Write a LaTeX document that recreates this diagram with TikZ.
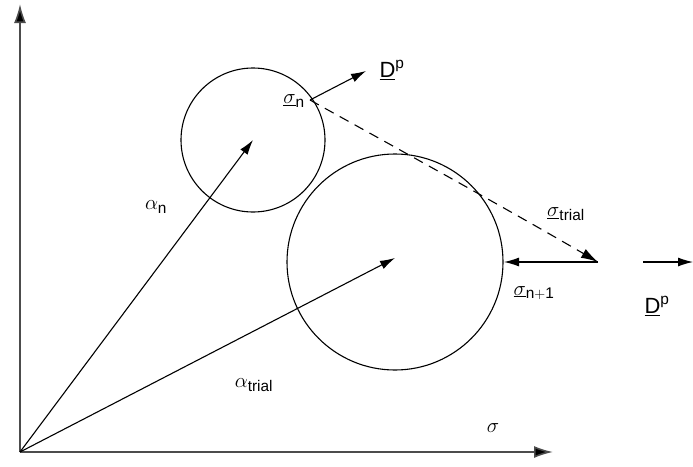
\documentclass[tikz,border=0pt]{standalone}
\usepackage{fontspec}
\setmainfont{Liberation Sans}
\usetikzlibrary{arrows.meta}
\begin{document}
\begin{tikzpicture}[x=1pt,y=-1pt,
  vec/.style={line width=1.1pt,-{Latex[length=15pt,width=9pt]}},
  ax/.style={line width=1.6pt,draw=black!70,-{Latex[length=19pt,width=12pt,fill=black]}},
  lbl/.style={font=\fontsize{22}{26}\selectfont,inner sep=0pt}]
\useasboundingbox (0,0) rectangle (693,466);
\coordinate (O) at (20,452);
\coordinate (ytop) at (20,4);
\coordinate (xend) at (553,452);
\draw[ax] (O) -- (ytop);
\draw[ax] (O) -- (xend);
% circles
\node[circle,draw,line width=1.1pt,minimum size=144pt,inner sep=0pt] (c1) at (253,140) {};
\node[circle,draw,line width=1.1pt,minimum size=216pt,inner sep=0pt] (c2) at (395,262) {};
\coordinate (c1c) at (253,140);
\coordinate (c2c) at (395,258);
\draw[vec] (O) -- (c1c);
\draw[vec] (O) -- (c2c);
% points
\coordinate (sn) at (310,100);
\coordinate (st) at (598,262);
\coordinate (sn1) at (504,262);
\coordinate (dp1) at (366,71);
\coordinate (dp2s) at (643,262);
\coordinate (dp2e) at (693,262);
\draw[vec] (sn) -- (dp1);
\draw[line width=1.1pt,dashed,dash pattern=on 10pt off 7pt,-{Latex[length=17pt,width=10pt]}] (sn) .. controls (400,150) and (500,205) .. (st);
\draw[vec] (st) -- (sn1);
\draw[vec] (dp2s) -- (dp2e);
% labels
\node[lbl] (lsn) at (294,101) {$\underline{\sigma}_{\mathrm{n}}$};
\node[lbl] (ldp1) at (392,70) {$\underline{\mathrm{D}}^{\mathrm{p}}$};
\node[lbl] (lst) at (566,214) {$\underline{\sigma}_{\mathrm{trial}}$};
\node[lbl] (lsn1) at (534,293) {$\underline{\sigma}_{\mathrm{n+1}}$};
\node[lbl] (ldp2) at (657,306) {$\underline{\mathrm{D}}^{\mathrm{p}}$};
\node[lbl] (lan) at (156,207) {$\alpha_{\mathrm{n}}$};
\node[lbl] (lat) at (254,385) {$\alpha_{\mathrm{trial}}$};
\node[lbl] (ls) at (493,428) {$\sigma$};
\end{tikzpicture}
\end{document}
